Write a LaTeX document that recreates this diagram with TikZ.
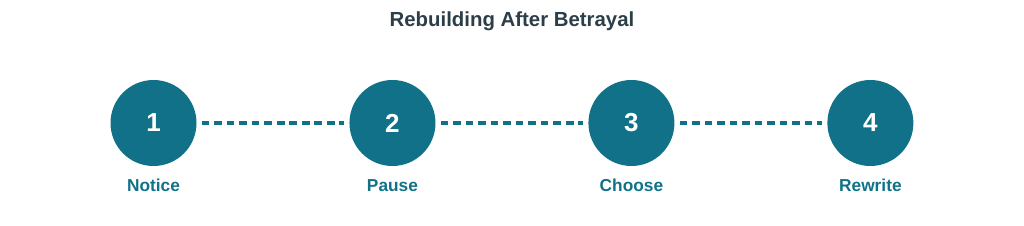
\documentclass[tikz,border=0pt]{standalone}
\usepackage{fontspec}
\setmainfont{Liberation Sans}
\usetikzlibrary{positioning}
\definecolor{stepteal}{RGB}{16,113,136}
\definecolor{titlegray}{RGB}{44,62,72}

\begin{document}
\begin{tikzpicture}[
    node distance=3.81cm,
    stepcircle/.style={circle, fill=stepteal, minimum size=2.15cm, inner sep=0pt,
                text=white, font=\fontsize{18.5}{21}\selectfont\bfseries},
    steplabel/.style={text=stepteal, font=\fontsize{12.3}{14}\selectfont\bfseries,
                text height=1.6ex, text depth=0.5ex},
    link/.style={draw=stepteal, line width=2.3pt, dash pattern=on 5.4pt off 3.5pt,
                shorten <=3.6pt, shorten >=3.6pt}
]
    \useasboundingbox (0,0) rectangle (25.6,5.625);

    % Title
    \node[text=titlegray, font=\fontsize{14.5}{17}\selectfont\bfseries] (title) at (12.8,5.1)
        {Rebuilding After Betrayal};

    % Steps
    \node[stepcircle] (notice) at (3.8375,2.55) {1};
    \node[stepcircle, right=of notice] (pause) {2};
    \node[stepcircle, right=of pause] (choose) {3};
    \node[stepcircle, right=of choose] (rewrite) {4};

    % Labels
    \node[steplabel, below=0.2cm of notice] (noticelbl) {Notice};
    \node[steplabel, below=0.2cm of pause] (pauselbl) {Pause};
    \node[steplabel, below=0.2cm of choose] (chooselbl) {Choose};
    \node[steplabel, below=0.2cm of rewrite] (rewritelbl) {Rewrite};

    % Links
    \draw[link] (notice) -- (pause);
    \draw[link] (pause) -- (choose);
    \draw[link] (choose) -- (rewrite);
\end{tikzpicture}
\end{document}
